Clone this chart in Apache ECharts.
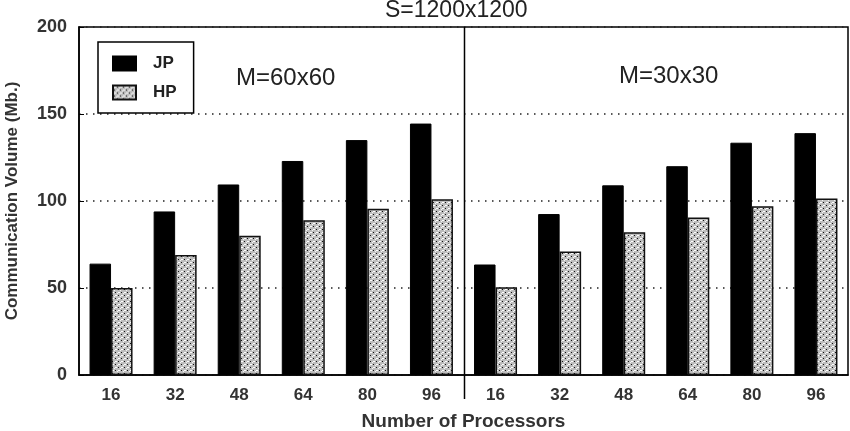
<!DOCTYPE html>
<html>
<head>
<meta charset="utf-8">
<script src="https://cdn.jsdelivr.net/npm/echarts@6/dist/echarts.min.js"></script>
<style>
  html, body { margin: 0; padding: 0; background: #fff; }
  #chart { width: 850px; height: 431px; }
</style>
</head>
<body>
<div id="chart"></div>
<script>
// processor counts, two panels side by side
const processors = ["16", "32", "48", "64", "80", "96", "16", "32", "48", "64", "80", "96"];
const jpVolume = [64, 94, 109.5, 123, 135, 144.5, 63.5, 92.5, 109, 120, 133.5, 139];
const hpVolume = [50, 69, 80, 89, 95.5, 101, 50.5, 71, 82, 90.5, 97, 101.5];
const yTicks = [0, 50, 100, 150, 200];
const panelLabels = ["M=60x60", "M=30x30"];
const chartTitle = "S=1200x1200";
const panelSize = 6; // categories per panel

// dotted texture for the HP bars
function makeHatch() {
  const c = document.createElement("canvas");
  c.width = 6;
  c.height = 6;
  const ctx = c.getContext("2d");
  ctx.fillStyle = "#bdbdbd";
  ctx.fillRect(0, 0, 6, 6);
  ctx.fillStyle = "#fff";
  ctx.fillRect(1, 1, 2, 1);
  ctx.fillRect(4, 4, 2, 1);
  ctx.fillStyle = "#111";
  ctx.fillRect(4, 1, 1, 1);
  ctx.fillRect(1, 4, 1, 1);
  ctx.fillStyle = "#f4f4f4";
  ctx.fillRect(0, 2, 1, 1);
  ctx.fillRect(3, 5, 1, 1);
  return c;
}

const font = "Liberation Sans, Arial, sans-serif";
const chart = echarts.init(document.getElementById("chart"), null, { renderer: "canvas" });

chart.setOption({
  animation: false,
  backgroundColor: "#fff",
  title: [
    {
      text: chartTitle, left: 385, top: -1, padding: 0,
      textStyle: { fontFamily: font, fontSize: 23, fontWeight: "normal", color: "#222" },
    },
    {
      text: panelLabels[0], left: 236, top: 66, padding: 0,
      textStyle: { fontFamily: font, fontSize: 24, fontWeight: "normal", color: "#222" },
    },
    {
      text: panelLabels[1], left: 619, top: 64, padding: 0,
      textStyle: { fontFamily: font, fontSize: 24, fontWeight: "normal", color: "#222" },
    },
  ],
  legend: {
    orient: "vertical",
    left: 98,
    top: 42,
    padding: [13, 17, 12, 14],
    itemWidth: 23,
    itemHeight: 14,
    itemGap: 12,
    borderColor: "#000",
    borderWidth: 1.5,
    icon: "rect",
    textStyle: { fontFamily: font, fontSize: 17, fontWeight: "bold", color: "#222", padding: [0, 0, 0, 12] },
    data: ["JP", "HP"],
  },
  grid: {
    left: 79, right: 2, top: 27, bottom: 56,
    outerBoundsMode: "none",
    show: true, borderColor: "#000", borderWidth: 1.5, backgroundColor: "transparent",
  },
  xAxis: {
    type: "category",
    data: processors,
    name: "Number of Processors",
    nameLocation: "middle",
    nameGap: 37,
    nameTextStyle: { fontFamily: font, fontSize: 19, fontWeight: "bold", color: "#333" },
    axisLine: { lineStyle: { color: "#000", width: 1.5 } },
    axisTick: { show: false },
    axisLabel: { fontFamily: font, fontSize: 17, fontWeight: "bold", color: "#333", margin: 12 },
  },
  yAxis: {
    type: "value",
    min: yTicks[0],
    max: yTicks[yTicks.length - 1],
    interval: yTicks[1] - yTicks[0],
    name: "Communication Volume (Mb.)",
    nameLocation: "middle",
    nameGap: 58,
    nameTextStyle: { fontFamily: font, fontSize: 17, fontWeight: "bold", color: "#333" },
    axisLine: { show: true, lineStyle: { color: "#000", width: 1.5 } },
    axisTick: { show: true, inside: true, length: 5, lineStyle: { color: "#000" } },
    splitLine: { show: true, lineStyle: { color: "#222", width: 1.5, type: [1.5, 5.5] } },
    axisLabel: { fontFamily: font, fontSize: 18, fontWeight: "bold", color: "#333", margin: 12 },
  },
  series: [
    {
      name: "JP",
      type: "bar",
      data: jpVolume,
      barWidth: 21.5,
      barGap: "0%",
      itemStyle: { color: "#000", borderColor: "#000", borderWidth: 1 },
    },
    {
      name: "HP",
      type: "bar",
      data: hpVolume,
      barWidth: 21.5,
      itemStyle: {
        color: { image: makeHatch(), repeat: "repeat" },
        borderColor: "#111",
        borderWidth: 1.5,
      },
    },
  ],
});

// separator between the two panels, placed from the axis scales
const xa = chart.convertToPixel({ xAxisIndex: 0 }, panelSize - 1);
const xb = chart.convertToPixel({ xAxisIndex: 0 }, panelSize);
const yTop = chart.convertToPixel({ yAxisIndex: 0 }, yTicks[yTicks.length - 1]);
const yBottom = chart.convertToPixel({ yAxisIndex: 0 }, yTicks[0]);
const xMid = Math.round((xa + xb) / 2) + 0.5;
chart.setOption({
  graphic: [{
    type: "line",
    shape: { x1: xMid, y1: yTop, x2: xMid, y2: yBottom + 24 },
    style: { stroke: "#000", lineWidth: 1.5 },
    z: 10,
  }],
});
</script>
</body>
</html>
